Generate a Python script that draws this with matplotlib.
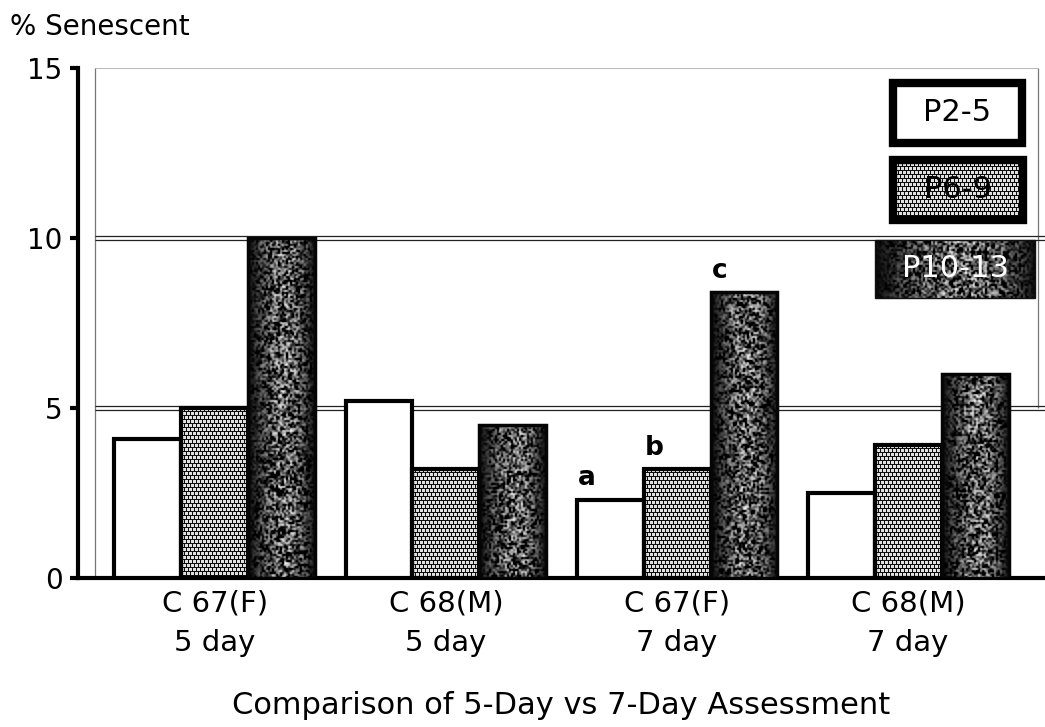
import numpy as np
import matplotlib.pyplot as plt
from matplotlib.patches import Rectangle

# percent senescent cells per group, by passage range
groups = ["C 67(F)\n5 day", "C 68(M)\n5 day", "C 67(F)\n7 day", "C 68(M)\n7 day"]
passages = ["P2-5", "P6-9", "P10-13"]
p2_5 = [4.1, 5.2, 2.3, 2.5]
p6_9 = [5.0, 3.2, 3.2, 3.9]
p10_13 = [10.0, 4.5, 8.4, 6.0]
yticks = [0, 5, 10, 15]
letters = ["a", "b", "c"]   # marks on the C 67(F) 7 day group
letter_group = 2

rng = np.random.default_rng(7)


def dot_screen(w, h, period=4):
    """White dots on black, like a halftone screen."""
    jj, ii = np.meshgrid(np.arange(w), np.arange(h))
    on = (ii % period < period - 1) & ((jj + (ii // period) % 2 * 2) % period < period - 1)
    return np.where(on, 0.88, 0.05)


def stipple(w, h):
    """Dark grainy fill, lighter toward the middle."""
    u = (np.arange(w) + 0.5) / w
    prof = np.sin(np.pi * u ** 1.15) ** 0.9
    # coarse grain: half-resolution noise, blown up and softened
    small = rng.random((h // 2 + 2, w // 2 + 2))
    noise = np.repeat(np.repeat(small, 2, 0), 2, 1)[:h, :w]
    noise = (noise + np.roll(noise, 1, 0) + np.roll(noise, 1, 1)
             + np.roll(noise, -1, 0) + np.roll(noise, -1, 1)) / 5
    img = 0.03 + 0.30 * prof[None, :] + 1.3 * (noise - 0.5) * prof[None, :]
    return np.clip(img, 0, 1)


def fill_patch(ax, patch, maker, transform=None):
    trans = transform if transform is not None else ax.transData
    x0, y0 = patch.get_x(), patch.get_y()
    x1, y1 = x0 + patch.get_width(), y0 + patch.get_height()
    (px0, py0), (px1, py1) = trans.transform([(x0, y0), (x1, y1)])
    w = max(int(round(abs(px1 - px0))), 2)
    h = max(int(round(abs(py1 - py0))), 2)
    im = ax.imshow(maker(w, h), extent=(x0, x1, y0, y1), cmap="gray",
                   vmin=0, vmax=1, interpolation="nearest", aspect="auto",
                   transform=trans, zorder=patch.get_zorder() - 0.1)
    im.set_clip_path(patch)
    return im


fig = plt.figure(figsize=(10.45, 7.27), dpi=100)
ax = fig.add_axes([78 / 1045, 149 / 727, 967 / 1045, 510 / 727])
xlim = (-0.593, 3.593)
ax.set_xlim(*xlim)
ax.set_ylim(0, 15)

x = np.arange(len(groups))
w = 0.29

# panel frame with doubled rules at 5 and 10
bl, br = -0.52, 3.563
ax.vlines(bl, 0, 15, color="#777777", lw=0.9, zorder=1)
ax.vlines(br, 5, 15, color="#777777", lw=0.9, zorder=1)
ax.hlines(15, bl, br, color="#aaaaaa", lw=1.2, zorder=1)
for yv in (5, 10):
    ax.hlines([yv + 0.06, yv - 0.06], bl, xlim[1], color="#222222", lw=0.9, zorder=1)

b1 = ax.bar(x - w, p2_5, w, facecolor="white", edgecolor="black", linewidth=3, zorder=3)
b2 = ax.bar(x, p6_9, w, facecolor="none", edgecolor="black", linewidth=3, zorder=3)
b3 = ax.bar(x + w, p10_13, w, facecolor="none", edgecolor="#050505", linewidth=2.5, zorder=3)
ax.set_xlim(*xlim)
ax.set_ylim(0, 15)
for p in b2:
    fill_patch(ax, p, dot_screen)
for p in b3:
    fill_patch(ax, p, stipple)

for bars, lab in zip((b1, b2, b3), letters):
    p = bars[letter_group]
    ax.text(p.get_x() + 0.005, p.get_height() + 0.25, lab, ha="left", va="bottom",
            fontsize=19, fontweight="bold", zorder=4)

# legend boxes
specs = [(0.843, 0.853, 0.133, 0.118, "white", "black", 6, None, "black"),
         (0.843, 0.702, 0.134, 0.118, "none", "black", 6, dot_screen, "black"),
         (0.824, 0.549, 0.166, 0.114, "none", "#111111", 1, stipple, "white")]
for (lx, ly, lw_, lh, fc, ec, elw, maker, tc), name in zip(specs, passages):
    r = Rectangle((lx, ly), lw_, lh, transform=ax.transAxes, facecolor=fc,
                  edgecolor=ec, linewidth=elw, zorder=6)
    ax.add_patch(r)
    if maker is not None:
        fill_patch(ax, r, maker, transform=ax.transAxes)
    ax.text(lx + lw_ / 2, ly + lh / 2, name, transform=ax.transAxes, ha="center",
            va="center", fontsize=22, color=tc, zorder=7)

for side in ("top", "right"):
    ax.spines[side].set_visible(False)
ax.spines["left"].set_linewidth(3)
ax.spines["bottom"].set_linewidth(3)
ax.spines["left"].set_bounds(0, 15)

ax.set_yticks(yticks)
ax.tick_params(axis="y", length=6, width=3, labelsize=20, pad=5)
ax.set_xticks(x)
ax.set_xticklabels(groups)
ax.tick_params(axis="x", length=0, labelsize=21, pad=8)
for t in ax.get_xticklabels():
    t.set_linespacing(1.55)

ax.set_xlabel("Comparison of 5-Day vs 7-Day Assessment", fontsize=22, labelpad=24)
fig.text(10 / 1045, 1 - 27 / 727, "% Senescent", fontsize=20, va="center", ha="left")

fig.savefig("out.png", dpi=100)
